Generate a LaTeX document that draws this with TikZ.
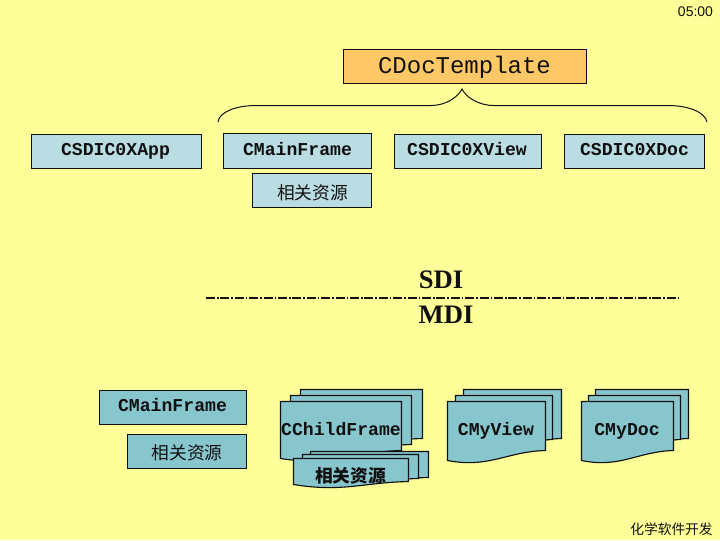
\documentclass[tikz,border=0pt]{standalone}
\usepackage{fontspec}
\setmainfont{Liberation Serif}
\newfontfamily\monof{Liberation Mono}
\newfontfamily\sansf{Liberation Sans}
\newfontfamily\cjk{Noto Sans CJK SC}
\definecolor{bgy}{HTML}{FFFF99}
\definecolor{lightb}{HTML}{B9DDE3}
\definecolor{darkb}{HTML}{88C6CE}
\definecolor{orangeb}{HTML}{FFC866}
\definecolor{inkc}{HTML}{101010}
\newcommand{\docpage}[5]{% x0 x1 ytop yleft yright
  \pgfmathsetmacro{\pw}{#2-#1}
  \pgfmathsetmacro{\pa}{#1+0.42*\pw}
  \pgfmathsetmacro{\pb}{#1+0.6*\pw}
  \pgfmathsetmacro{\pc}{#4+8}
  \pgfmathsetmacro{\pd}{#5+1}
  \pgfmathsetmacro{\pr}{#2-1}
  \draw[pagebox,shift={(0.5,0.5)}] (#1,#3) -- (\pr,#3) -- (\pr,#5) .. controls (\pb,\pd) and (\pa,\pc) .. (#1,#4) -- cycle;
}
\tikzset{
  pagebox/.style={draw=inkc,fill=darkb,line width=0.85pt},
  topbox/.style={draw=inkc,fill=lightb,line width=0.8pt,inner sep=0pt,outer sep=0pt,anchor=north west},
  lowbox/.style={draw=inkc,fill=darkb,line width=0.8pt,inner sep=0pt,outer sep=0pt,anchor=north west},
  codetext/.style={font=\monof\bfseries\fontsize{13.6}{15}\selectfont,text=inkc,anchor=base,inner sep=0pt},
  cjktext/.style={font=\cjk\fontsize{13.3}{15}\selectfont,text=inkc},
  brace/.style={draw=inkc,line width=0.75pt},
  divider/.style={draw=inkc,line width=1.3pt,dash pattern=on 6.8pt off 1.4pt on 1.2pt off 1.4pt},
  modetext/.style={font=\bfseries\fontsize{20}{22}\selectfont,text=inkc,anchor=base,inner sep=0pt}
}
\begin{document}
\begin{tikzpicture}[x=0.75pt,y=-0.75pt]
\useasboundingbox (0,0) rectangle (720,540);
\fill[bgy] (0,0) rectangle (720,540);
% top boxes
\node[draw=inkc,fill=orangeb,line width=0.8pt,inner sep=0pt,outer sep=0pt,anchor=north west,minimum width=182.25pt,minimum height=25.5pt] (tpl) at (343.5,49.5) {};
\node[font=\monof\fontsize{18}{20}\selectfont,text=inkc,anchor=base,inner sep=0pt] (tpltext) at (464.5,73) {CDocTemplate};
\node[topbox,minimum width=127.5pt,minimum height=25.5pt] (app) at (31.5,134.5) {};
\node[codetext] (apptext) at (115.5,155) {CSDIC0XApp};
\node[topbox,minimum width=111pt,minimum height=26.25pt] (mf) at (223.5,133.5) {};
\node[codetext] (mftext) at (297.5,155) {CMainFrame};
\node[topbox,minimum width=110.25pt,minimum height=25.5pt] (view) at (394.5,134.5) {};
\node[codetext] (viewtext) at (467,155) {CSDIC0XView};
\node[topbox,minimum width=105pt,minimum height=25.5pt] (doc) at (564.5,134.5) {};
\node[codetext] (doctext) at (634.5,155) {CSDIC0XDoc};
\node[topbox,minimum width=89.25pt,minimum height=25.5pt] (res) at (252.5,173.5) {};
\node[cjktext] (restext) at (312.5,192.5) {相关资源};
% brace
\coordinate (bl) at (218,122);
\coordinate (bt) at (462,89);
\coordinate (br) at (707,122);
\draw[brace] (bl) .. controls (219,112) and (236,105.5) .. (256,105.5) -- (431,105.5) .. controls (446,105.5) and (458,97) .. (bt) .. controls (466,97) and (478,105.5) .. (494,105.5) -- (668,105.5) .. controls (688,105.5) and (705,112) .. (br);
% divider
\coordinate (dl) at (206,298);
\coordinate (dr) at (680,298);
\draw[divider] (dl) -- (dr);
\node[modetext] (sdi) at (441,288) {SDI};
\node[modetext] (mdi) at (446,323) {MDI};
% bottom left
\node[lowbox,minimum width=110.25pt,minimum height=25.5pt] (mf2) at (99.5,390.5) {};
\node[codetext] (mf2text) at (172.5,411.5) {CMainFrame};
\node[lowbox,minimum width=89.25pt,minimum height=25.5pt] (res2) at (127.5,434.5) {};
\node[cjktext] (res2text) at (187,452.5) {相关资源};
% stacks
\docpage{300}{423}{389}{446}{438}
\docpage{290}{412}{395}{452}{444}
\docpage{280}{402}{401}{458}{450}
\node[codetext] (childtext) at (341,435.5) {CChildFrame};
\docpage{310}{429}{451}{478}{477}
\docpage{302}{419}{454}{481}{478}
\docpage{293}{409}{458}{484}{481}
\node[cjktext,font=\cjk\bfseries\fontsize{13.3}{15}\selectfont] (res3text) at (350.5,476) {相关资源};
\docpage{463}{562}{389}{448}{438}
\docpage{455}{553}{395}{454}{439}
\docpage{447}{546}{401}{460}{450}
\node[codetext] (viewtext2) at (496,435.5) {CMyView};
\docpage{595}{689}{389}{448}{438}
\docpage{588}{681}{395}{454}{439}
\docpage{581}{674}{401}{460}{450}
\node[codetext] (doctext2) at (627,435.5) {CMyDoc};
% corner labels
\node[font=\sansf\fontsize{10.5}{12}\selectfont,text=inkc] (clock) at (695.5,12) {05:00};
\node[font=\cjk\fontsize{10.3}{12}\selectfont,text=inkc] (foot) at (671.5,529) {化学软件开发};
\end{tikzpicture}
\end{document}
